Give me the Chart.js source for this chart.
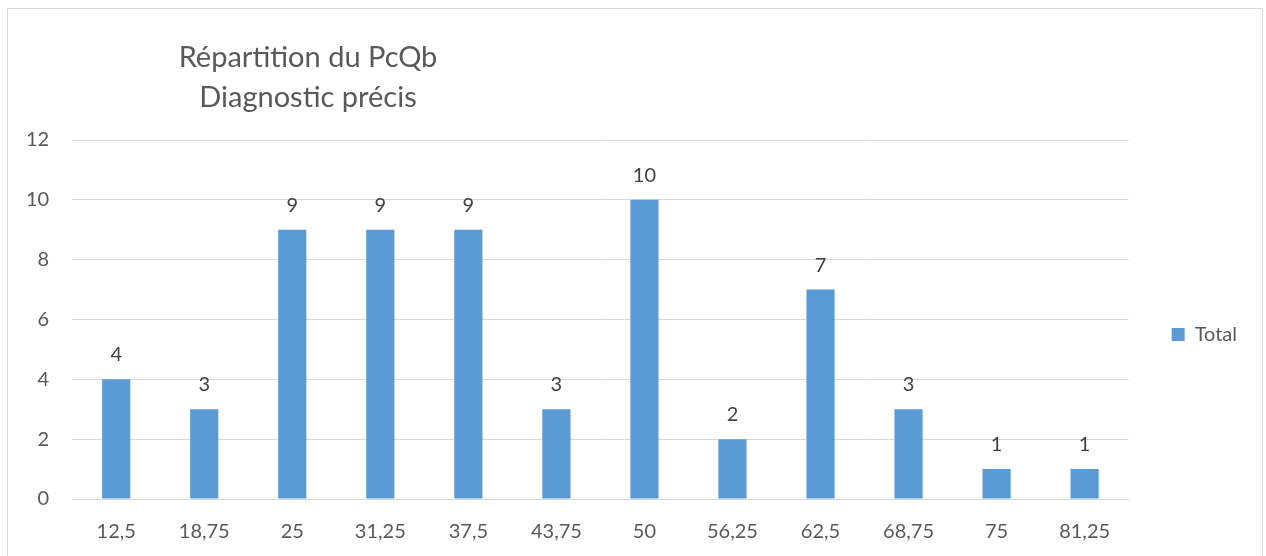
<!DOCTYPE html>
<html>
<head>
<meta charset="utf-8">
<script src="https://cdn.jsdelivr.net/npm/chart.js@4"></script>
<style>
    body { margin: 0; background: #fff; }
    #wrap { position: relative; width: 1266px; height: 556px; overflow: hidden; }
    #frame { position: absolute; left: 7px; top: 8px; width: 1254px; height: 600px; border: 1px solid #d9d9d9; }
    #title { position: absolute; left: 108px; top: 36px; width: 400px; text-align: center;
             font-family: Lato, sans-serif; font-size: 29px; line-height: 40px; color: #595959; }
    canvas { position: absolute; left: 0; top: 0; }
</style>
</head>
<body>
<div id="wrap">
    <div id="frame"></div>
    <canvas id="BarChart" width="1266" height="556"></canvas>
    <div id="title">Répartition du PcQb<br>Diagnostic précis</div>
</div>
<script>
var categories = ['12,5', '18,75', '25', '31,25', '37,5', '43,75', '50', '56,25', '62,5', '68,75', '75', '81,25'];
var totals = [4, 3, 9, 9, 9, 3, 10, 2, 7, 3, 1, 1];
var yMin = 0;
var yMax = 12;
var yStep = 2;

// value labels above the bars
var barLabels = {
    id: 'barLabels',
    afterDatasetsDraw: function (chart) {
        var ctx = chart.ctx;
        var meta = chart.getDatasetMeta(0);
        ctx.save();
        ctx.font = '20px Lato, sans-serif';
        ctx.fillStyle = '#404040';
        ctx.textAlign = 'center';
        ctx.textBaseline = 'alphabetic';
        meta.data.forEach(function (bar, i) {
            ctx.fillText(chart.data.datasets[0].data[i], bar.x, bar.y - 18);
        });
        ctx.restore();
    }
};

var ctx = document.getElementById('BarChart').getContext('2d');
var myBarChart = new Chart(ctx, {
    type: 'bar',
    data: {
        labels: categories,
        datasets: [{
            label: 'Total',
            data: totals,
            backgroundColor: '#5b9bd5',
            categoryPercentage: 0.32,
            barPercentage: 1
        }]
    },
    options: {
        responsive: false,
        animation: false,
        layout: {
            padding: { top: 140, bottom: -1, left: 3, right: 19 }
        },
        plugins: {
            legend: {
                position: 'right',
                fullSize: false,
                // empty title only pushes the entry down a little
                title: {
                    display: true,
                    text: ' ',
                    font: { size: 10 },
                    padding: 9
                },
                labels: {
                    boxWidth: 13,
                    boxHeight: 13,
                    padding: 43,
                    color: '#595959',
                    font: { family: 'Lato, sans-serif', size: 20 }
                }
            },
            tooltip: { enabled: false }
        },
        scales: {
            y: {
                min: yMin,
                max: yMax,
                ticks: {
                    stepSize: yStep,
                    padding: 23,
                    color: '#595959',
                    font: { family: 'Lato, sans-serif', size: 20 }
                },
                grid: {
                    color: '#d9d9d9',
                    drawTicks: false
                },
                border: { display: false }
            },
            x: {
                ticks: {
                    padding: 13,
                    color: '#595959',
                    font: { family: 'Lato, sans-serif', size: 20 }
                },
                grid: { display: false },
                border: { color: '#d9d9d9' }
            }
        }
    },
    plugins: [barLabels]
});
</script>
</body>
</html>
